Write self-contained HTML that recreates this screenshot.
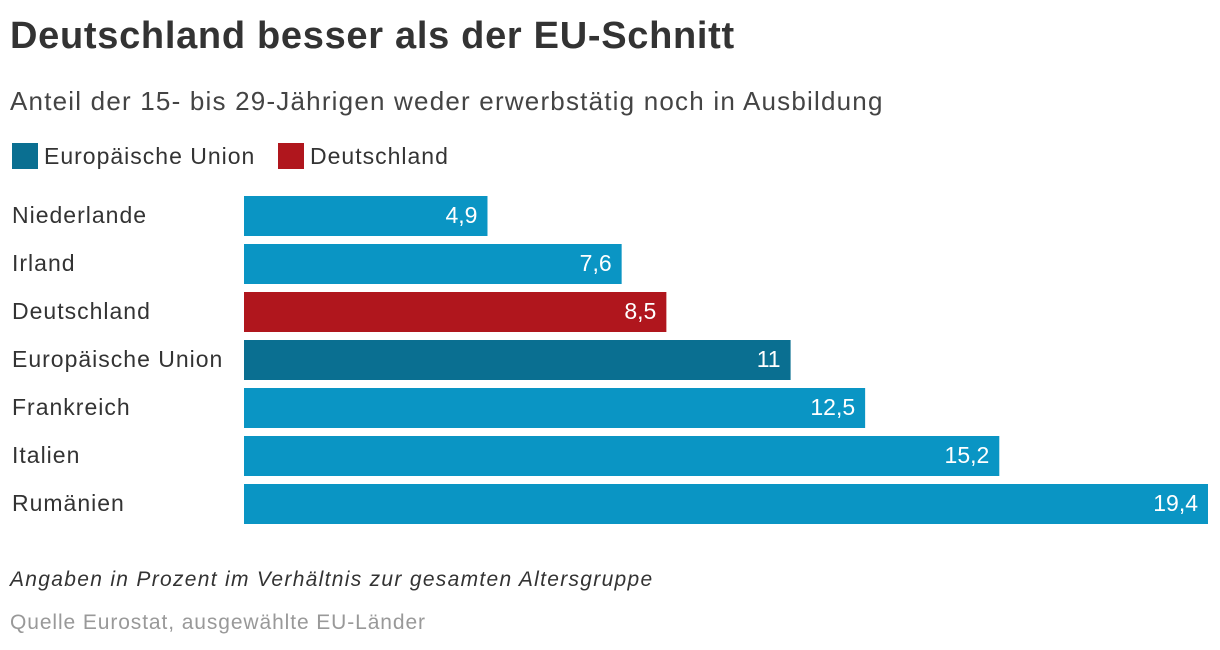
<!DOCTYPE html>
<html><head><meta charset="utf-8">
<style>
body{margin:0;width:1220px;height:650px;background:#fff;font-family:"Liberation Sans",sans-serif;color:#333;position:relative;overflow:hidden}
.t{position:absolute;white-space:nowrap}
</style></head><body>
<div class="t" style="left:10px;top:15px;font-size:38px;font-weight:bold;color:#333;letter-spacing:0.7px">Deutschland besser als der EU-Schnitt</div>
<div class="t" style="left:10px;top:86px;font-size:26px;color:#444;letter-spacing:1.2px">Anteil der 15- bis 29-Jährigen weder erwerbstätig noch in Ausbildung</div>
<div class="t" style="left:12px;top:143px;font-size:23px;line-height:26px;letter-spacing:1px"><span style="display:inline-block;width:26px;height:26px;background:#0a6f91;vertical-align:top;margin-right:6px"></span>Europäische Union</div>
<div class="t" style="left:278px;top:143px;font-size:23px;line-height:26px;letter-spacing:1px"><span style="display:inline-block;width:26px;height:26px;background:#b0161d;vertical-align:top;margin-right:6px"></span>Deutschland</div>
<svg id="chart" width="1220" height="650" style="position:absolute;left:0;top:0"></svg>
<div class="t" style="left:10px;top:568px;font-size:21px;font-style:italic;color:#333;letter-spacing:1.3px">Angaben in Prozent im Verhältnis zur gesamten Altersgruppe</div>
<div class="t" style="left:10px;top:611px;font-size:21px;color:#999;letter-spacing:0.9px">Quelle Eurostat, ausgewählte EU-Länder</div>
<script>
const categories=["Niederlande","Irland","Deutschland","Europäische Union","Frankreich","Italien","Rumänien"];
const values=[4.9,7.6,8.5,11,12.5,15.2,19.4];
const labels=["4,9","7,6","8,5","11","12,5","15,2","19,4"];
const kinds=["c","c","de","eu","c","c","c"];
const colors={c:"#0a95c4",de:"#b0161d",eu:"#0a6f91"};
const svg=document.getElementById('chart');
const NS="http://www.w3.org/2000/svg";
const x0=244,x1=1208,maxV=19.4;
const xs=v=>x0+(v/maxV)*(x1-x0);
const ys=i=>196+i*48;
categories.forEach((c,i)=>{
  const y=ys(i);
  const t=document.createElementNS(NS,'text');
  
  
  t.setAttribute('x',12);t.setAttribute('y',y+27);
  t.setAttribute('font-size','23');t.setAttribute('fill','#333');
  t.setAttribute('letter-spacing','1');
  t.textContent=c;svg.appendChild(t);
  const r=document.createElementNS(NS,'rect');
  
  
  r.setAttribute('x',x0);r.setAttribute('y',y);
  r.setAttribute('width',xs(values[i])-x0);r.setAttribute('height',40);
  r.setAttribute('fill',colors[kinds[i]]);svg.appendChild(r);
  const v=document.createElementNS(NS,'text');
  
  
  v.setAttribute('x',xs(values[i])-10);v.setAttribute('y',y+27);
  v.setAttribute('text-anchor','end');
  v.setAttribute('font-size','23');v.setAttribute('fill','#fff');
  v.textContent=labels[i];svg.appendChild(v);
});
</script>
</body></html>
